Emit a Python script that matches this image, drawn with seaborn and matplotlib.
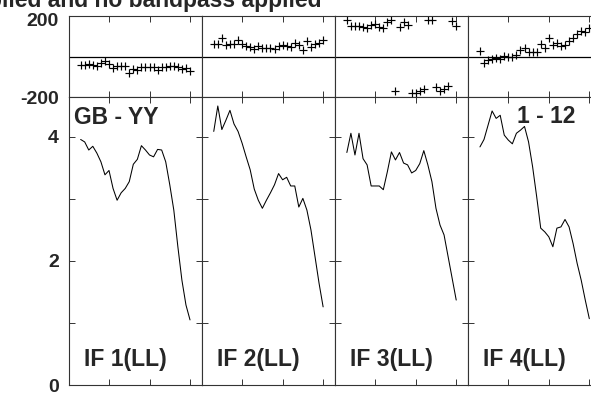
#!/usr/bin/env python3
"""
POSSM-style spectrum: phase (top) and amplitude (bottom) for four IFs
"""

import numpy as np
import pandas as pd
import seaborn as sns
import matplotlib
matplotlib.use('Agg')
import matplotlib.pyplot as plt
import matplotlib.transforms as mtransforms

# channels 3..30 in each IF
channels = list(range(3, 31))
if_labels = ['IF 1(LL)', 'IF 2(LL)', 'IF 3(LL)', 'IF 4(LL)']

amp_if1 = [3.96, 3.92, 3.79, 3.85, 3.74, 3.60, 3.39, 3.46, 3.17, 2.98, 3.10, 3.17, 3.28, 3.56,
           3.64, 3.86, 3.79, 3.71, 3.68, 3.80, 3.79, 3.60, 3.23, 2.82, 2.23, 1.69, 1.29, 1.05]
amp_if2 = [4.09, 4.50, 4.12, 4.27, 4.43, 4.21, 4.09, 3.90, 3.68, 3.47, 3.16, 2.98, 2.85, 2.98,
           3.10, 3.23, 3.41, 3.31, 3.35, 3.21, 3.21, 2.87, 3.01, 2.82, 2.50, 2.07, 1.64, 1.26]
amp_if3 = [3.75, 4.06, 3.71, 4.06, 3.65, 3.55, 3.21, 3.21, 3.21, 3.15, 3.44, 3.76, 3.63, 3.75,
           3.58, 3.55, 3.42, 3.46, 3.57, 3.78, 3.55, 3.28, 2.85, 2.58, 2.42, 2.07, 1.72, 1.37]
amp_if4 = [3.84, 3.96, 4.19, 4.42, 4.30, 4.35, 4.03, 3.95, 3.89, 4.06, 4.11, 4.17, 3.92, 3.52,
           3.04, 2.53, 2.47, 2.39, 2.23, 2.53, 2.55, 2.67, 2.55, 2.28, 1.96, 1.69, 1.37, 1.07]

phase_if1 = [-43, -43, -35, -41, -46, -30, -21, -38, -59, -49, -49, -49, -82, -63,
             -67, -51, -54, -54, -54, -66, -54, -54, -49, -46, -54, -63, -59, -71]
phase_if2 = [61, 64, 90, 56, 64, 64, 81, 64, 53, 48, 36, 53, 41, 44,
             44, 36, 53, 58, 53, 48, 69, 56, 31, 77, 48, 64, 69, 81]
phase_if3 = [179, 151, 151, 151, 147, 143, 155, 160, 148, 140, 168, 179, -170, 147,
             168, 156, -178, -178, -170, -161, 179, 179, -150, -170, -161, -145, 176, 151]
phase_if4 = [25, -30, -18, -13, -8, -13, 3, -2, -2, 8, 31, 44, 20, 20,
             20, 64, 44, 90, 56, 69, 53, 58, 77, 90, 110, 127, 119, 140]

amps = [amp_if1, amp_if2, amp_if3, amp_if4]
phases = [phase_if1, phase_if2, phase_if3, phase_if4]

sns.set_style('ticks')
plt.rcParams['font.family'] = ['Liberation Sans', 'DejaVu Sans']
plt.rcParams['font.weight'] = 'bold'

W, H = 591, 397
fig = plt.figure(figsize=(W / 100, H / 100), dpi=100)
fig.patch.set_facecolor('white')

left0, pw = 68.5, 133.1
ph_top, ph_bot = 16, 97
am_top, am_bot = 97, 385


def rect(x0, y_top, y_bot):
    return [x0 / W, (H - y_bot) / H, pw / W, (y_bot - y_top) / H]


def style_axes(ax):
    for s in ax.spines.values():
        s.set_linewidth(0.8)
        s.set_color('#333333')
    ax.tick_params(direction='in', which='both', top=True, right=True,
                   length=4, width=0.7, color='#333333', labelsize=14, pad=7)
    ax.set_xlim(0, 32.86)
    ax.set_xticks([10, 20, 30])
    ax.set_xticklabels([])
    ax.set_xlabel('')
    ax.set_ylabel('')


for i in range(4):
    x0 = left0 + i * pw
    df = pd.DataFrame({'chan': channels, 'amp': amps[i], 'phase': phases[i]})

    # phase panel
    axp = fig.add_axes(rect(x0, ph_top, ph_bot))
    sns.scatterplot(data=df, x='chan', y='phase', marker='+', s=34, color='black',
                    linewidth=0.85, ax=axp, legend=False)
    axp.axhline(0, color='black', lw=0.9)
    style_axes(axp)
    axp.set_ylim(-200, 200)
    axp.set_yticks([-200, 200])

    # amplitude panel
    axa = fig.add_axes(rect(x0, am_top, am_bot))
    sns.lineplot(data=df, x='chan', y='amp', color='black', lw=0.75, ax=axa)
    style_axes(axa)
    axa.set_ylim(0, 4.645)
    axa.set_yticks([0, 2, 4])
    axa.set_yticks([1, 3], minor=True)

    if i == 0:
        axp.set_yticklabels(['-200', '200'], fontweight='bold')
        axa.set_yticklabels(['0', '2', '4'], fontweight='bold')
        # nudge the top phase label down a little, as in the reference
        shift = mtransforms.ScaledTranslation(0, -2.5 / 72, fig.dpi_scale_trans)
        top_lab = axp.get_yticklabels()[1]
        top_lab.set_transform(top_lab.get_transform() + shift)
    else:
        axp.set_yticklabels([])
        axa.set_yticklabels([])

    fig.text((x0 + 15.5) / W, 1 - 366 / H, if_labels[i], fontsize=16.5,
             fontweight='bold', ha='left', va='baseline')

fig.text(74 / W, 1 - 123.5 / H, 'GB - YY', fontsize=16.5, fontweight='bold',
         ha='left', va='baseline')
fig.text(575 / W, 1 - 123 / H, '1 - 12', fontsize=16.5, fontweight='bold',
         ha='right', va='baseline')
fig.text(322 / W, 1 - 7.3 / H, 'Calibration applied and no bandpass applied',
         fontsize=16.5, fontweight='bold', ha='right', va='baseline')

fig.savefig('out.png', dpi=100, facecolor='white')
